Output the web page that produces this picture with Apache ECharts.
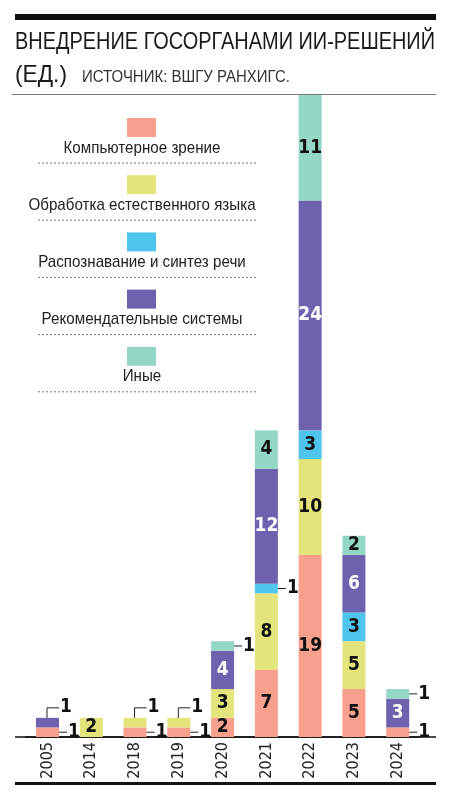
<!DOCTYPE html>
<html>
<head>
<meta charset="utf-8">
<script src="https://cdn.jsdelivr.net/npm/echarts@6/dist/echarts.min.js"></script>
<style>
html,body{margin:0;padding:0;background:#fff;}
#chart{width:450px;height:800px;}
</style>
</head>
<body>
<div id="chart"></div>
<script>
// ---- data ----
const years = ['2005','2014','2018','2019','2020','2021','2022','2023','2024'];
const seriesNames = ['Компьютерное зрение','Обработка естественного языка','Распознавание и синтез речи','Рекомендательные системы','Иные'];
const computerVision = [1, 0, 1, 1, 2, 7, 19, 5, 1];
const nlp            = [0, 2, 1, 1, 3, 8, 10, 5, 0];
const speech         = [0, 0, 0, 0, 0, 1, 3, 3, 0];
const recommender    = [1, 0, 0, 0, 4, 12, 24, 6, 3];
const others         = [0, 0, 0, 0, 1, 4, 11, 2, 1];
const seriesValues = [computerVision, nlp, speech, recommender, others];
const titleText = 'ВНЕДРЕНИЕ ГОСОРГАНАМИ ИИ-РЕШЕНИЙ';
const unitText = '(ЕД.)';
const sourceText = 'ИСТОЧНИК: ВШГУ РАНХИГС.';

const colors = ['#f8a08d','#e3e47b','#4fc5ee','#6e62ae','#95d7c7'];
const labelColors = ['#111','#111','#111','#fff','#111'];
const yMax = 67;

const FONT = "'DejaVu Sans Condensed','Liberation Sans Narrow',sans-serif";
const SANS = "'Liberation Sans',Arial,sans-serif";

// text measuring for horizontal compression (condensed look)
const mctx = document.createElement('canvas').getContext('2d');
function measure(text, size, weight) {
  mctx.font = (weight || 'normal') + ' ' + size + 'px ' + SANS;
  return mctx.measureText(text).width;
}
function squeezedText(text, x, y, size, targetWidth, fill, align) {
  const w = measure(text, size);
  return {type: 'text', x: x, y: y, scaleX: targetWidth / w, scaleY: 1,
    style: {x: 0, y: 0, text: text, fontFamily: SANS, fontSize: size, fill: fill,
      align: align || 'left', verticalAlign: 'middle'}};
}

// decide label kinds
const elbowData = [];
const barSeries = seriesValues.map((vals, si) => {
  const data = vals.map((v, ci) => {
    if (!v) return {value: 0, label: {show: false}};
    if (v === 1) {
      let prev = 0, cum = 0;
      for (let k = 0; k < si; k++) { if (seriesValues[k][ci]) prev = seriesValues[k][ci]; cum += seriesValues[k][ci]; }
      if (prev === 1) {
        elbowData.push([ci, cum + v, String(v)]);
        return {value: v, label: {show: false}};
      }
      return {value: v, label: {show: true, position: 'right', distance: 0,
        formatter: '{l|}{n|' + v + '}'}};
    }
    return {value: v, label: {show: true, position: 'inside', formatter: '{v|' + v + '}'}};
  });
  return {
    name: seriesNames[si],
    type: 'bar',
    stack: 'total',
    barWidth: 23,
    itemStyle: {color: colors[si]},
    label: {
      fontFamily: FONT,
      rich: {
        v: {fontFamily: FONT, fontSize: 19, fontWeight: 'bold', color: labelColors[si]},
        n: {fontFamily: FONT, fontSize: 19, fontWeight: 'bold', color: '#111', padding: [0,0,0,1]},
        l: {width: 8, height: 1, backgroundColor: '#222', verticalAlign: 'middle'}
      }
    },
    emphasis: {disabled: true},
    data: data
  };
});

const elbowSeries = {
  type: 'custom',
  coordinateSystem: 'cartesian2d',
  silent: true,
  z: 5,
  data: elbowData,
  renderItem: function (params, api) {
    const p = api.coord([api.value(0), api.value(1)]);
    const x = p[0] - 0.5, y = p[1];
    return {
      type: 'group',
      children: [
        {type: 'polyline', shape: {points: [[x, y], [x, y - 10], [x + 12, y - 10]]},
          style: {stroke: '#222', lineWidth: 1, fill: null}},
        {type: 'text', style: {x: x + 13, y: y - 11, text: elbowData[params.dataIndex][2],
          fontFamily: FONT, fontSize: 19, fontWeight: 'bold', fill: '#111',
          align: 'left', verticalAlign: 'middle'}}
      ]
    };
  }
};

// legend graphics (icon above text, dashed separator below)
const legendScale = 157 / measure(seriesNames[0], 17);
const legendGraphics = [];
seriesNames.forEach((name, i) => {
  const dy = i * 57.2;
  legendGraphics.push({type: 'rect', shape: {x: 127, y: 118 + dy, width: 29, height: 19}, style: {fill: colors[i]}});
  legendGraphics.push({type: 'text', x: 142, y: 148 + dy, scaleX: legendScale,
    style: {x: 0, y: 0, text: name, fontFamily: SANS, fontSize: 17, fill: '#222', align: 'center', verticalAlign: 'middle'}});
  legendGraphics.push({type: 'line', shape: {x1: 38, y1: 163 + dy, x2: 258, y2: 163 + dy}, style: {stroke: '#777', lineWidth: 1, lineDash: [2, 2]}});
});

const chart = echarts.init(document.getElementById('chart'), null, {renderer: 'canvas'});
chart.setOption({
  backgroundColor: '#fff',
  animation: false,
  grid: {left: 25.6, right: 30.4, top: 95, bottom: 63, containLabel: false},
  xAxis: {
    type: 'category',
    data: years,
    axisLine: {show: true, lineStyle: {color: '#111', width: 1.5}},
    axisTick: {show: false},
    axisLabel: {rotate: 90, fontFamily: FONT, fontSize: 16, color: '#222', margin: 5}
  },
  yAxis: {type: 'value', min: 0, max: yMax, show: false, splitLine: {show: false}},
  series: barSeries.concat([elbowSeries]),
  graphic: [
    {type: 'rect', shape: {x: 15, y: 14, width: 421, height: 6}, style: {fill: '#111'}},
    squeezedText(titleText, 15, 42, 24, 420, '#1a1a1a'),
    squeezedText(unitText, 15, 75, 24, 52, '#1a1a1a'),
    squeezedText(sourceText, 82, 77, 17, 208, '#333'),
    {type: 'line', shape: {x1: 12, y1: 94.5, x2: 436, y2: 94.5}, style: {stroke: '#777', lineWidth: 1}},
    {type: 'line', shape: {x1: 15, y1: 737, x2: 436, y2: 737}, style: {stroke: '#111', lineWidth: 1.5}},
    {type: 'rect', shape: {x: 15, y: 782, width: 421, height: 3}, style: {fill: '#111'}}
  ].concat(legendGraphics)
});
</script>
</body>
</html>
